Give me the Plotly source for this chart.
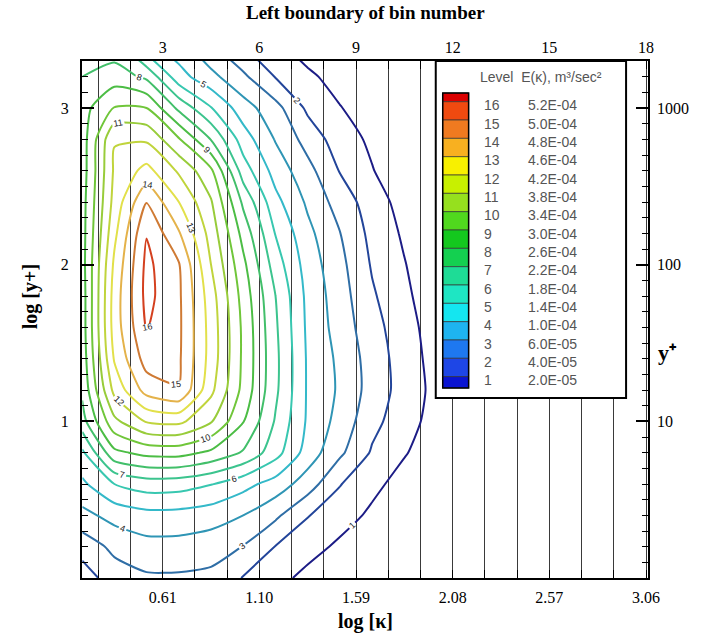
import plotly.graph_objects as go

# ---------------- data ----------------
# log10(kappa) at bin centres (columns of the level field)
log_kappa = [0.202, 0.365, 0.528, 0.692, 0.855, 1.018, 1.182, 1.345,
             1.508, 1.672, 1.835, 1.998, 2.162, 2.325]
# log10(y+) rows
log_yplus = [0.0, 0.2, 0.4, 0.6, 0.8, 1.0, 1.2, 1.4, 1.6, 1.8,
             2.0, 2.2, 2.4, 2.6, 2.8, 3.0, 3.2, 3.4]
# contour level of E(kappa) read at each node (one row per log_yplus value)
level_field = [
    [1.5, 2.5, 2.85, 2.85, 2.75, 1.95, 1.35, 0.7, 0.3, 0.1, 0, 0, 0, 0],
    [2.4, 3.25, 3.65, 3.65, 3.45, 2.97, 1.97, 1.4, 0.8, 0.3, 0, 0, 0, 0],
    [3.7, 4.35, 4.67, 4.65, 4.45, 4.0, 3.2, 2.05, 1.45, 0.8, 0.3, 0, 0, 0],
    [4.8, 6.0, 6.5, 6.45, 6.05, 5.35, 4.58, 3.5, 2.05, 1.27, 0.6, 0.15, 0, 0],
    [5.8, 8.75, 9.3, 9.35, 8.8, 7.9, 6.4, 4.55, 3.2, 1.88, 1.08, 0.4, 0, 0],
    [7.6, 10.75, 12.1, 12.25, 11.1, 9.05, 6.9, 4.85, 3.64, 2.3, 1.42, 0.6, 0.1, 0],
    [8.2, 12.3, 14.4, 14.97, 12.25, 9.7, 7.2, 4.88, 3.85, 2.58, 1.58, 0.7, 0.15, 0],
    [8.4, 13.1, 15.45, 15.15, 12.6, 9.8, 7.25, 4.87, 3.78, 2.54, 1.53, 0.6, 0.1, 0],
    [8.5, 13.45, 16.05, 15.19, 12.6, 9.79, 7.15, 4.8, 3.57, 2.37, 1.41, 0.5, 0.05, 0],
    [8.5, 13.45, 16.3, 15.17, 12.45, 9.6, 7.0, 4.73, 3.45, 2.13, 1.22, 0.35, 0, 0],
    [8.6, 13.2, 16.25, 15.08, 12.0, 9.25, 6.5, 4.55, 3.29, 1.9, 1.05, 0.25, 0, 0],
    [8.6, 12.75, 15.95, 14.1, 11.6, 8.65, 5.95, 4.27, 3.03, 1.7, 0.85, 0.15, 0, 0],
    [8.6, 12.35, 14.97, 13.0, 11.1, 7.8, 5.3, 3.83, 2.55, 1.5, 0.6, 0.1, 0, 0],
    [8.5, 12.15, 13.33, 11.85, 10.2, 6.5, 4.6, 3.33, 1.95, 1.05, 0.3, 0, 0, 0],
    [8.5, 11.95, 11.85, 10.1, 7.95, 5.5, 3.93, 2.6, 1.5, 0.8, 0.2, 0, 0, 0],
    [8.6, 10.05, 10.0, 7.75, 6.05, 4.45, 3.35, 1.8, 1.05, 0.45, 0.05, 0, 0, 0],
    [8.0, 8.5, 7.8, 5.4, 4.3, 3.2, 1.95, 1.2, 0.6, 0.2, 0, 0, 0, 0],
    [7.3, 7.4, 5.3, 4.4, 3.1, 2.0, 1.2, 0.5, 0.1, 0, 0, 0, 0, 0],
]

# bin boundaries (top axis = bin number, bottom axis = log kappa)
bin_number = list(range(1, 19))
bin_edge_log = [0.283, 0.447, 0.61, 0.773, 0.937, 1.10, 1.263, 1.427, 1.59,
                1.753, 1.917, 2.08, 2.243, 2.407, 2.57, 2.733, 2.897, 3.06]

# y+ axis
yplus_log_ticks = [1, 2, 3]
yplus_labels = ["10", "100", "1000"]

# legend levels
level_num = [16, 15, 14, 13, 12, 11, 10, 9, 8, 7, 6, 5, 4, 3, 2, 1]
level_E = ["5.2E-04", "5.0E-04", "4.8E-04", "4.6E-04", "4.2E-04", "3.8E-04",
           "3.4E-04", "3.0E-04", "2.6E-04", "2.2E-04", "1.8E-04", "1.4E-04",
           "1.0E-04", "6.0E-05", "4.0E-05", "2.0E-05"]
# legend swatches, top (above level 16) to bottom (level 1)
swatch_colors = ["#dc0000", "#f04a10", "#f07a20", "#f8b020", "#f8f000",
                 "#c8f000", "#96e01e", "#50d81e", "#14c81e", "#14d050",
                 "#1edc96", "#1ee6c3", "#14e6f0", "#1eb4f0", "#1e78f0",
                 "#1e46e6", "#0a14d2"]
# contour line colour for levels 1..16
line_colors = ["#1c1c86", "#23459a", "#2f6ea6", "#2f95b5", "#34b9c9",
               "#38c7b0", "#3cc48e", "#42bf6a", "#4cbd45", "#70c63a",
               "#98cc3a", "#c0d43c", "#e2e04a", "#e4b24a", "#cf7a34",
               "#d4401f"]

# ---------------- figure ----------------
W, H = 701, 640
L, R, T, B = 82, 650, 61, 578


def px(x):
    return (x - L) / (R - L)


def py(y):
    return (B - y) / (B - T)


SERIF = "Liberation Serif"
SANS = "Liberation Sans"

colorscale = [[i / 15, c] for i, c in enumerate(line_colors)]

fig = go.Figure()
fig.add_trace(go.Contour(
    x=log_kappa, y=log_yplus, z=level_field,
    zmin=1, zmax=16, colorscale=colorscale, showscale=False,
    contours=dict(start=1, end=16, size=1, coloring="lines",
                  showlabels=True, labelformat=".0f",
                  labelfont=dict(family=SANS, size=9, color="#222222")),
    line=dict(width=2, smoothing=0.6),
    hoverinfo="skip",
))
for xa, ya in [("x2", "y"), ("x", "y2")]:
    fig.add_trace(go.Scatter(x=[], y=[], xaxis=xa, yaxis=ya,
                             showlegend=False, hoverinfo="skip"))

xr = [0.201, 3.07]
yr = [0.0, 3.3]
tickfont = dict(family=SERIF, size=16, color="black")

labeled = [(n, v) for n, v in zip(bin_number, bin_edge_log) if n % 3 == 0]
major_vals = [v for n, v in labeled]
bottom_text = [f"{v:.2f}" for n, v in labeled]
top_text = [str(n) for n, v in labeled]

grid = dict(showgrid=True, gridcolor="#3a3a3a", gridwidth=1.2)

fig.update_layout(
    width=W, height=H,
    margin=dict(l=L, r=W - R, t=T, b=H - B),
    paper_bgcolor="white", plot_bgcolor="white",
    showlegend=False,
    xaxis=dict(range=xr, tickvals=major_vals, ticktext=bottom_text,
               ticks="inside", ticklen=8, tickwidth=1.3, tickcolor="black",
               minor=dict(tickvals=bin_edge_log, ticks="inside", ticklen=8,
                          tickwidth=1.3, tickcolor="black", **grid),
               showline=True, linewidth=2, linecolor="black", mirror=True,
               zeroline=False, tickfont=tickfont, ticklabelstandoff=4, **grid),
    xaxis2=dict(range=xr, overlaying="x", side="top", anchor="y",
                tickvals=major_vals, ticktext=top_text,
                ticks="inside", ticklen=8, tickwidth=1.3, tickcolor="black",
                minor=dict(tickvals=bin_edge_log, ticks="inside", ticklen=8,
                           tickwidth=1.3, tickcolor="black"),
                showline=False, showgrid=False, zeroline=False,
                tickfont=tickfont, ticklabelstandoff=4),
    yaxis=dict(range=yr, tickvals=yplus_log_ticks, ticks="inside", ticklen=12,
               tickwidth=1.5, tickcolor="black",
               minor=dict(dtick=0.1, tick0=0, ticks="inside", ticklen=6,
                          tickwidth=1.2, tickcolor="black"),
               showline=True, linewidth=2, linecolor="black", mirror=True,
               showgrid=False, zeroline=False, tickfont=tickfont,
               ticklabelstandoff=8),
    yaxis2=dict(range=yr, overlaying="y", side="right", anchor="x",
                tickvals=yplus_log_ticks, ticktext=yplus_labels,
                ticks="inside", ticklen=12, tickwidth=1.5, tickcolor="black",
                minor=dict(dtick=0.1, tick0=0, ticks="inside", ticklen=6,
                           tickwidth=1.2, tickcolor="black"),
                showline=False, showgrid=False, zeroline=False,
                tickfont=tickfont, ticklabelstandoff=8),
)

shapes = []
annotations = []

# legend box
shapes.append(dict(type="rect", xref="paper", yref="paper", layer="above",
                   x0=px(437), x1=px(628), y0=py(398), y1=py(61),
                   fillcolor="white", line=dict(color="black", width=2)))
# swatches
sw_x0, sw_x1 = px(444), px(470)
row0, step = 101.7, 18.33
edges = [93.0] + [row0 + i * step for i in range(16)] + [388.0]
for i, c in enumerate(swatch_colors):
    shapes.append(dict(type="rect", xref="paper", yref="paper", layer="above",
                       x0=sw_x0, x1=sw_x1, y0=py(edges[i + 1]), y1=py(edges[i]),
                       fillcolor=c, line=dict(color="#333333", width=0.7)))
shapes.append(dict(type="rect", xref="paper", yref="paper", layer="above",
                   x0=sw_x0, x1=sw_x1, y0=py(388), y1=py(93),
                   fillcolor="rgba(0,0,0,0)", line=dict(color="black", width=1.5)))

legend_font = dict(family=SANS, size=14, color="#555555")
annotations.append(dict(xref="paper", yref="paper", x=px(479), y=py(77),
                        xanchor="left", yanchor="middle", showarrow=False,
                        text="Level  E(\u03ba), m\u00b3/sec\u00b2",
                        font=dict(family=SANS, size=14, color="#555555")))
for i, (n, e) in enumerate(zip(level_num, level_E)):
    yc = 105.3 + i * step
    annotations.append(dict(xref="paper", yref="paper", x=px(483), y=py(yc),
                            xanchor="left", yanchor="middle", showarrow=False,
                            text=str(n), font=legend_font))
    annotations.append(dict(xref="paper", yref="paper", x=px(528), y=py(yc),
                            xanchor="left", yanchor="middle", showarrow=False,
                            text=e, font=legend_font))

# axis titles
title_font = dict(family=SERIF, size=20, color="black")
annotations.append(dict(xref="paper", yref="paper", x=px(366), y=py(13),
                        xanchor="center", yanchor="middle", showarrow=False,
                        text="<b>Left boundary of bin number</b>",
                        font=dict(family=SERIF, size=19, color="black")))
annotations.append(dict(xref="paper", yref="paper", x=px(366), y=py(621),
                        xanchor="center", yanchor="middle", showarrow=False,
                        text="<b>log [\u03ba]</b>", font=title_font))
annotations.append(dict(xref="paper", yref="paper", x=px(30), y=py(297),
                        xanchor="center", yanchor="middle", showarrow=False,
                        textangle=-90, text="<b>log [y+]</b>", font=title_font))
annotations.append(dict(xref="paper", yref="paper", x=px(670), y=py(352),
                        xanchor="center", yanchor="middle", showarrow=False,
                        text="<b>y\u207a</b>", font=dict(family=SERIF, size=22, color="black")))

fig.update_layout(shapes=shapes, annotations=annotations)
fig.write_html("out.html")
